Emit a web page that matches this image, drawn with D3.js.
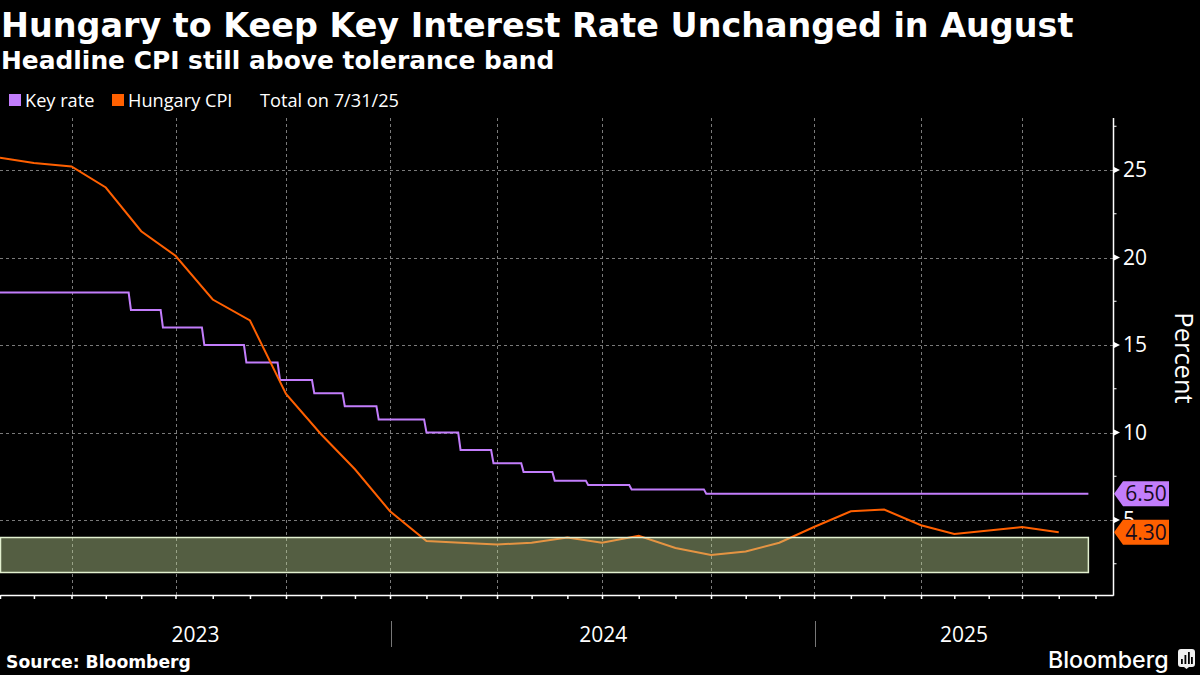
<!DOCTYPE html>
<html>
<head>
<meta charset="utf-8">
<script src="https://cdn.jsdelivr.net/npm/d3@7"></script>
<style>
  html, body { margin: 0; background: #000; }
  svg { display: block; }
  text { fill: #fff; }
</style>
</head>
<body>
<svg id="chart" width="1200" height="675"></svg>
<script>
//cpi readings, one per month end
const cpiValues = [25.7, 25.4, 25.2, 24.0, 21.5, 20.1, 17.6, 16.4, 12.2, 9.9, 7.9, 5.5,
    3.8, 3.7, 3.6, 3.7, 4.0, 3.7, 4.1, 3.4, 3.0, 3.2, 3.7, 4.6,
    5.5, 5.6, 4.7, 4.2, 4.4, 4.6, 4.3];

//key rate, changes only
const rateDates = ["2023-01-31", "2023-05-22", "2023-06-19", "2023-07-24", "2023-08-28", "2023-09-25",
    "2023-10-25", "2023-11-21", "2023-12-21", "2024-01-31", "2024-02-29", "2024-03-28",
    "2024-04-23", "2024-05-20", "2024-06-18", "2024-07-25", "2024-09-26"];
const rateValues = [18, 17, 16, 15, 14, 13, 12.25, 11.5, 10.75, 10, 9, 8.25, 7.75, 7.25, 7, 6.75, 6.5];
const lastDate = "2025-08-25";

//tolerance band
const bandValues = [2, 4];

//axis labels
const yTicks = [5, 10, 15, 20, 25];
const yMinorTicks = [2.5, 7.5, 12.5, 17.5, 22.5, 27.5];
const gridDates = ["2023-03-31", "2023-06-30", "2023-09-30", "2023-12-31", "2024-03-31", "2024-06-30",
    "2024-09-30", "2024-12-31", "2025-03-31", "2025-06-30"];
const years = [2023, 2024, 2025];

const keyColor = "#c27dfb";
const cpiColor = "#ff6000";
const parseDate = d3.utcParse("%Y-%m-%d");

const svg = d3.select("#chart");
const plotRight = 1113;
const plotTop = 118;
const plotBottom = 595;

//the source axis is not quite even in calendar time, so pin it at the quarter ends
const x = d3.scaleUtc()
    .domain(["2023-01-31", "2023-03-31", "2023-06-30", "2023-09-30", "2023-12-31", "2024-03-31", "2024-06-30",
        "2024-09-30", "2024-12-31", "2025-03-31", "2025-06-30", "2025-08-31", "2025-09-15"].map(parseDate))
    .range([0, 71.5, 175.5, 286, 390, 497, 602, 711, 814, 921, 1022, 1095.5, plotRight]);

const y = d3.scaleLinear()
    .domain([0.7, 28])
    .range([595.25, 117.5]);

//month end dates for the ticks
const monthEnds = d3.utcMonth.range(parseDate("2023-02-01"), parseDate("2025-10-01"))
    .map(function(d) { return d3.utcDay.offset(d, -1); });

const cpiData = cpiValues.map(function(v, i) {
    return { date: monthEnds[i], value: v };
});

//steps take a couple of days in the source, so the risers lean slightly
const rateData = [];
rateDates.forEach(function(d, i) {
    const date = parseDate(d);
    if (i > 0) rateData.push({ date: d3.utcDay.offset(date, -2), value: rateValues[i - 1] });
    rateData.push({ date: date, value: rateValues[i] });
});
rateData.push({ date: parseDate(lastDate), value: rateValues[rateValues.length - 1] });

const line = d3.line()
    .x(function(d) { return x(d.date); })
    .y(function(d) { return y(d.value); });

//draw grid
const grid = svg.append("g")
    .attr("stroke", "#7a7a7a")
    .attr("stroke-width", 1)
    .attr("stroke-dasharray", "3 3");

grid.selectAll("line.h").data(yTicks).enter().append("line")
    .attr("class", "h")
    .attr("x1", 0)
    .attr("x2", plotRight)
    .attr("y1", function(d) { return Math.round(y(d)) + 0.5; })
    .attr("y2", function(d) { return Math.round(y(d)) + 0.5; });

grid.selectAll("line.v").data(gridDates.map(parseDate)).enter().append("line")
    .attr("class", "v")
    .attr("x1", function(d) { return Math.round(x(d)) + 0.5; })
    .attr("x2", function(d) { return Math.round(x(d)) + 0.5; })
    .attr("y1", plotTop)
    .attr("y2", plotBottom);

//draw series
svg.append("path")
    .datum(rateData)
    .attr("fill", "none")
    .attr("stroke", keyColor)
    .attr("stroke-width", 2)
    .attr("d", line);

svg.append("path")
    .datum(cpiData)
    .attr("fill", "none")
    .attr("stroke", cpiColor)
    .attr("stroke-width", 2)
    .attr("d", line);

//band sits on top of the lines, it is see-through
svg.append("rect")
    .attr("x", 0.5)
    .attr("y", y(bandValues[1]))
    .attr("width", x(parseDate(lastDate)) - 0.5)
    .attr("height", y(bandValues[0]) - y(bandValues[1]))
    .attr("fill", "rgb(195,219,153)")
    .attr("fill-opacity", 0.43)
    .attr("stroke", "#e2f0cf")
    .attr("stroke-width", 1.5);

//x axis
const xAxis = svg.append("g")
    .attr("transform", "translate(0," + plotBottom + ")")
    .call(d3.axisBottom(x).tickValues(monthEnds.filter(function(d) { return x(d) < plotRight; }))
        .tickSize(4).tickSizeOuter(0).tickFormat(""));
xAxis.selectAll("path, line").attr("stroke", "#fff").attr("stroke-width", 1.5);

//year labels centred in their spans, separators between
const yearEdge = function(yr) {
    return Math.min(plotRight, Math.max(0, x(Date.UTC(yr, 0, 1))));
};
svg.selectAll("text.year").data(years).enter().append("text")
    .attr("class", "year")
    .attr("x", function(d) { return (yearEdge(d) + yearEdge(d + 1)) / 2; })
    .attr("y", 642)
    .attr("text-anchor", "middle")
    .attr("font-family", "Open Sans")
    .attr("font-size", 21)
    .text(function(d) { return d; });

svg.selectAll("line.sep").data(years.slice(1)).enter().append("line")
    .attr("class", "sep")
    .attr("x1", function(d) { return Math.round(yearEdge(d)) + 0.5; })
    .attr("x2", function(d) { return Math.round(yearEdge(d)) + 0.5; })
    .attr("y1", 621)
    .attr("y2", 647)
    .attr("stroke", "#777");

//y axis, major ticks are small arrowheads
const yAxis = svg.append("g")
    .attr("transform", "translate(" + plotRight + ",0)")
    .call(d3.axisRight(y).tickValues(yTicks).tickSize(0).tickPadding(10).tickSizeOuter(0).tickFormat(d3.format("d")));
yAxis.select("path").attr("stroke", "#fff").attr("stroke-width", 1.5);
yAxis.selectAll("text")
    .attr("font-family", "Open Sans")
    .attr("font-size", 21)
    .attr("fill", "#fff");

svg.append("g").selectAll("path").data(yTicks).enter().append("path")
    .attr("d", function(d) {
        return "M" + plotRight + "," + (y(d) - 3.5) + " L" + (plotRight + 7) + "," + y(d) + " L" + plotRight + "," + (y(d) + 3.5) + " Z";
    })
    .attr("fill", "#fff");

svg.append("g").selectAll("line").data(yMinorTicks).enter().append("line")
    .attr("x1", plotRight)
    .attr("x2", plotRight + 3.5)
    .attr("y1", function(d) { return y(d); })
    .attr("y2", function(d) { return y(d); })
    .attr("stroke", "#fff");

svg.append("text")
    .attr("transform", "translate(1175,358) rotate(90)")
    .attr("text-anchor", "middle")
    .attr("font-family", "Open Sans")
    .attr("font-size", 25.5)
    .text("Percent");

//last value tags
function addTag(value, color) {
    const cy = y(value);
    svg.append("path")
        .attr("d", "M" + (plotRight + 1) + "," + cy + " L1123," + (cy - 12.5) + " H1169 V" + (cy + 12.5) + " H1123 Z")
        .attr("fill", color);
    svg.append("text")
        .attr("x", 1146)
        .attr("y", cy + 7.5)
        .attr("text-anchor", "middle")
        .attr("font-family", "Open Sans")
        .attr("font-size", 21)
        .style("fill", "#160a1c")
        .text(value.toFixed(2));
}
addTag(rateValues[rateValues.length - 1], keyColor);
addTag(cpiValues[cpiValues.length - 1], cpiColor);

//title and subtitle
svg.append("text")
    .attr("x", 1)
    .attr("y", 37)
    .attr("font-family", "DejaVu Sans")
    .attr("font-weight", "bold")
    .attr("font-size", 33.4)
    .text("Hungary to Keep Key Interest Rate Unchanged in August");

svg.append("text")
    .attr("x", 1)
    .attr("y", 69)
    .attr("font-family", "DejaVu Sans")
    .attr("font-weight", "bold")
    .attr("font-size", 24.9)
    .text("Headline CPI still above tolerance band");

//legend
const legendText = svg.append("g")
    .attr("font-family", "Open Sans")
    .attr("font-size", 18.2);
svg.append("rect").attr("x", 9).attr("y", 94).attr("width", 12).attr("height", 12).attr("fill", keyColor);
legendText.append("text").attr("x", 25).attr("y", 107).text("Key rate");
svg.append("rect").attr("x", 112).attr("y", 94).attr("width", 12).attr("height", 12).attr("fill", cpiColor);
legendText.append("text").attr("x", 128).attr("y", 107).text("Hungary CPI");
legendText.append("text").attr("x", 260).attr("y", 107).text("Total on 7/31/25");

//footer
svg.append("text")
    .attr("x", 6)
    .attr("y", 668)
    .attr("font-family", "DejaVu Sans")
    .attr("font-weight", "bold")
    .attr("font-size", 17.2)
    .text("Source: Bloomberg");

svg.append("text")
    .attr("x", 1048)
    .attr("y", 668)
    .attr("font-family", "Inter")
    .attr("font-weight", 500)
    .attr("font-size", 23.2)
    .text("Bloomberg");

//logo mark
const logo = svg.append("g").attr("transform", "translate(1178,649)");
logo.append("path")
    .attr("d", "M3,0 H14 Q17,0 17,3 V15 Q17,18 14,18 H11 L8.5,20 L6,18 H3 Q0,18 0,15 V3 Q0,0 3,0 Z")
    .attr("fill", "#f0f0f0");
logo.selectAll("rect").data([[3, 10, 5], [6.5, 6, 9], [10, 3, 12], [13, 8, 7]]).enter().append("rect")
    .attr("x", function(d) { return d[0]; })
    .attr("y", function(d) { return d[1]; })
    .attr("width", 1.8)
    .attr("height", function(d) { return d[2]; })
    .attr("fill", "#000");
</script>
</body>
</html>
